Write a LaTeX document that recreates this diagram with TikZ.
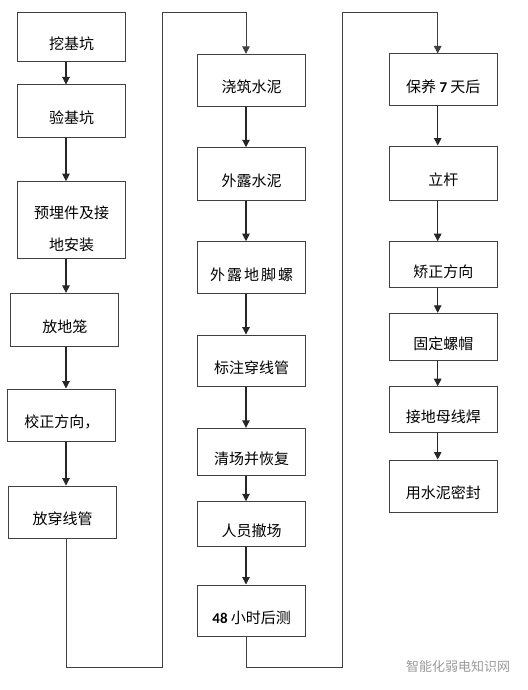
\documentclass[tikz,border=0pt]{standalone}
\usepackage{fontspec}
\setmainfont{Noto Sans CJK SC}
\newfontfamily\digitfont{Carlito}
\usetikzlibrary{arrows.meta}
\definecolor{boxline}{HTML}{404040}
\definecolor{markgray}{HTML}{9A9A9A}

\begin{document}
\begin{tikzpicture}[x=1pt,y=-1pt,
  font=\fontsize{15}{18}\selectfont,
  stage/.style={draw=boxline, line width=1pt, inner sep=0pt,
    minimum width=108pt, text height=26pt, text depth=0.6pt},
  flow/.style={draw=black!85, line width=1.1pt,
    -{Triangle[length=7.5pt,width=7.5pt]}},
  loopline/.style={draw=boxline, line width=1pt,
    -{Triangle[length=7.5pt,width=7.5pt]}}]

\useasboundingbox (0,0) rectangle (527,690);

% Arrow columns
\coordinate (colA) at (66,0);
\coordinate (colB) at (246,0);
\coordinate (colC) at (437.7,0);

% First column
\node[stage, minimum height=49pt] (wajikeng) at (71.7,37.2) {挖基坑};
\node[stage, minimum height=52pt] (yanjikeng) at (71.7,111) {验基坑};
\node[stage, minimum height=77pt, align=center, text height=62pt, text depth=1pt,
  font=\fontsize{15}{32}\selectfont] (yumai) at (71.7,220.2) {预埋件及接\\地安装};
\node[stage, minimum height=52.7pt] (fangdilong) at (64.9,319.7) {放地笼};
\node[stage, minimum height=52pt] (jiaozheng) at (61.9,415) {校正方向，};
\node[stage, minimum height=52.3pt] (fangguan) at (62.5,512.2) {放穿线管};

% Second column
\node[stage, minimum height=51.7pt] (jiaozhu) at (251.7,80.2) {浇筑水泥};
\node[stage, minimum height=52.3pt] (wailu) at (251.7,173.9) {外露水泥};
\node[stage, minimum height=51.6pt] (diluo) at (251.7,267.5)
  {外\hspace{2pt}露\hspace{2pt}地\hspace{2pt}脚\hspace{2pt}螺};
\node[stage, minimum height=51.7pt] (biaozhu) at (251.7,360.9) {标注穿线管};
\node[stage, minimum height=47.4pt] (qingchang) at (251.7,452) {清场并恢复};
\node[stage, minimum height=44.3pt] (chechang) at (251.7,523.9) {人员撤场};
\node[stage, minimum height=51pt] (houce) at (251.7,610.5)
  {{\digitfont\bfseries 48} 小时后测};

% Third column
\node[stage, minimum height=52pt] (baoyang) at (443.3,80) {保养 {\digitfont\bfseries 7} 天后};
\node[stage, minimum height=54pt] (ligan) at (443.3,173) {立杆};
\node[stage, minimum height=45.6pt] (jiaozheng2) at (443.3,264.5) {矫正方向};
\node[stage, minimum height=46.7pt] (luomao) at (443.3,336.7) {固定螺帽};
\node[stage, minimum height=46pt] (hanjie) at (443.3,409.7) {接地母线焊};
\node[stage, minimum height=52pt] (mifeng) at (443.3,486) {用水泥密封};

% Arrows inside the columns
\foreach \a/\b in {wajikeng/yanjikeng, yanjikeng/yumai, yumai/fangdilong,
    fangdilong/jiaozheng, jiaozheng/fangguan}
  \draw[flow] (\a.south -| colA) -- (\b.north -| colA);
\foreach \a/\b in {jiaozhu/wailu, wailu/diluo, diluo/biaozhu, biaozhu/qingchang,
    qingchang/chechang, chechang/houce}
  \draw[flow] (\a.south -| colB) -- (\b.north -| colB);
\foreach \a/\b in {baoyang/ligan, ligan/jiaozheng2, jiaozheng2/luomao,
    luomao/hanjie, hanjie/mifeng}
  \draw[flow] (\a.south -| colC) -- (\b.north -| colC);

% Lines from the bottom of one column to the top of the next
\coordinate (turnA) at (162,667.7);
\coordinate (topA) at (162,12.7);
\coordinate (turnB) at (342.3,667.7);
\coordinate (topB) at (342.3,12.7);
\draw[loopline] (fangguan.south -| colA) |- (turnA) -- (topA) -| (jiaozhu.north -| colB);
\draw[loopline] (houce.south -| colB) |- (turnB) -- (topB) -| (baoyang.north -| colC);

% Mark in the corner
\node[text=markgray, font=\fontsize{13}{15}\selectfont] (mark) at (458,667) {智能化弱电知识网};

\end{tikzpicture}
\end{document}
